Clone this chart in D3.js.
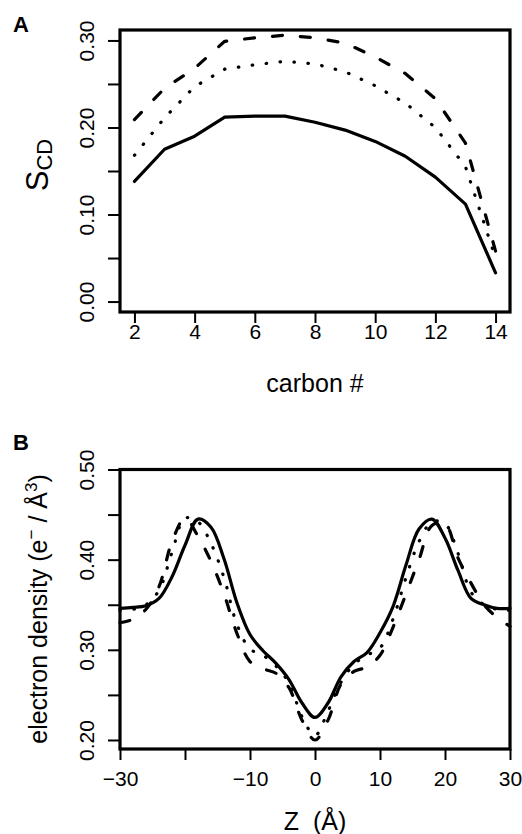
<!DOCTYPE html>
<html>
<head>
<meta charset="utf-8">
<script src="https://cdn.jsdelivr.net/npm/d3@7"></script>
<style>
  body { margin: 0; background: #fff; }
  svg { display: block; font-family: "Liberation Sans", Arial, sans-serif; }
  .tick line { stroke: #000; stroke-width: 2; }
  .domain { display: none; }
</style>
</head>
<body>
<div id="chart"></div>
<script>
// panel A: order parameter per carbon
const carbons = [2, 3, 4, 5, 6, 7, 8, 9, 10, 11, 12, 13, 14];
const scdSolid  = [0.138, 0.175, 0.190, 0.212, 0.213, 0.213, 0.206, 0.197, 0.184, 0.167, 0.143, 0.112, 0.033];
const scdDashed = [0.209, 0.245, 0.268, 0.299, 0.303, 0.306, 0.303, 0.297, 0.281, 0.262, 0.233, 0.182, 0.058];
const scdDotted = [0.168, 0.211, 0.247, 0.267, 0.272, 0.276, 0.273, 0.264, 0.248, 0.228, 0.200, 0.155, 0.050];
const scdTicks = [0, 0.05, 0.10, 0.15, 0.20, 0.25, 0.30];
const scdLabels = ['0.00', '', '0.10', '', '0.20', '', '0.30'];
const carbonTicks = [2, 4, 6, 8, 10, 12, 14];

// panel B: electron density profile along Z
const zPos = [-30, -28, -26, -24, -22, -20, -18, -16, -14, -12, -10, -8, -6, -4, -2, 0,
  2, 4, 6, 8, 10, 12, 14, 16, 18, 20, 22, 24, 26, 28, 30];
const edSolid  = [0.346, 0.347, 0.349, 0.357, 0.381, 0.416, 0.445, 0.436, 0.401, 0.352, 0.317, 0.299, 0.285, 0.267, 0.241, 0.225,
  0.241, 0.270, 0.287, 0.297, 0.319, 0.348, 0.394, 0.434, 0.445, 0.424, 0.388, 0.357, 0.350, 0.346, 0.346];
const edDashed = [0.330, 0.334, 0.345, 0.370, 0.420, 0.446, 0.426, 0.398, 0.362, 0.318, 0.287, 0.279, 0.274, 0.258, 0.222, 0.200,
  0.222, 0.262, 0.276, 0.281, 0.294, 0.325, 0.362, 0.400, 0.438, 0.440, 0.402, 0.374, 0.350, 0.336, 0.326];
const edDotted = [0.344, 0.345, 0.350, 0.366, 0.408, 0.446, 0.442, 0.418, 0.380, 0.328, 0.301, 0.294, 0.282, 0.263, 0.226, 0.205,
  0.232, 0.264, 0.284, 0.294, 0.302, 0.334, 0.380, 0.420, 0.442, 0.440, 0.407, 0.364, 0.350, 0.345, 0.344];
const edTicks = [0.20, 0.25, 0.30, 0.35, 0.40, 0.45, 0.50];
const edLabels = ['0.20', '', '0.30', '', '0.40', '', '0.50'];
const zTicks = [-30, -20, -10, 0, 10, 20, 30];
const zLabels = ['\u221230', '', '\u221210', '0', '10', '20', '30'];

const width = 522;
const height = 834;
const styles = [
  { dash: null },
  { dash: '10,18' },
  { dash: '0.5,13.5' }
];

const svg = d3.select('#chart').append('svg')
  .attr('width', width)
  .attr('height', height);

function panel(opts) {
  const g = svg.append('g');
  const x = d3.scaleLinear().domain(opts.xDomain).range([120, 510]);
  const y = d3.scaleLinear().domain(opts.yDomain).range([opts.bottom, opts.top]);

  // series
  const line = d3.line()
    .x((d, i) => x(opts.xs[i]))
    .y(d => y(d))
    .curve(opts.curve);
  opts.series.forEach((s, i) => {
    g.append('path')
      .datum(s)
      .attr('d', line)
      .attr('fill', 'none')
      .attr('stroke', '#000')
      .attr('stroke-width', 3.2)
      .attr('stroke-linecap', 'round')
      .attr('stroke-linejoin', 'round')
      .attr('stroke-dasharray', styles[i].dash);
  });

  // y axis with rotated labels
  const yAxis = g.append('g')
    .attr('transform', 'translate(120,0)')
    .call(d3.axisLeft(y).tickValues(opts.yTicks).tickSize(12)
      .tickFormat((d, i) => opts.yLabels[i]))
    .attr('font-size', 21)
    .attr('font-family', null);
  yAxis.selectAll('text')
    .attr('transform', 'rotate(-90)')
    .attr('x', 0)
    .attr('y', -26)
    .attr('dy', 0)
    .attr('text-anchor', 'middle');

  const xAxis = g.append('g')
    .attr('transform', 'translate(0,' + opts.bottom + ')')
    .call(d3.axisBottom(x).tickValues(opts.xTicks).tickSize(11)
      .tickFormat((d, i) => opts.xLabels ? opts.xLabels[i] : d))
    .attr('font-size', 21)
    .attr('font-family', null);
  xAxis.selectAll('text')
    .attr('y', opts.xLabelY)
    .attr('dy', 0);

  // frame
  g.append('rect')
    .attr('x', 120)
    .attr('y', opts.top)
    .attr('width', 390)
    .attr('height', opts.bottom - opts.top)
    .attr('fill', 'none')
    .attr('stroke', '#000')
    .attr('stroke-width', 3.2);

  g.append('text')
    .attr('x', 13)
    .attr('y', opts.top + opts.tagDy)
    .attr('font-size', 22)
    .attr('font-weight', 'bold')
    .text(opts.tag);

  return g;
}

const gA = panel({
  tag: 'A', tagDy: 2,
  top: 30, bottom: 312,
  xDomain: [1.52, 14.48], yDomain: [-0.012, 0.312],
  xs: carbons, series: [scdSolid, scdDashed, scdDotted],
  curve: d3.curveLinear,
  yTicks: scdTicks, yLabels: scdLabels,
  xTicks: carbonTicks, xLabelY: 27
});

gA.append('text')
  .attr('x', 315)
  .attr('y', 392)
  .attr('text-anchor', 'middle')
  .attr('font-size', 25)
  .text('carbon #');

const sLabel = gA.append('text')
  .attr('transform', 'translate(48,165) rotate(-90)')
  .attr('text-anchor', 'middle')
  .attr('font-size', 31);
sLabel.append('tspan').text('S');
sLabel.append('tspan').attr('font-size', 22).attr('dy', 4).text('CD');

const gB = panel({
  tag: 'B', tagDy: -20,
  top: 469.5, bottom: 749,
  xDomain: [-30, 30], yDomain: [0.19, 0.50],
  xs: zPos, series: [edSolid, edDashed, edDotted],
  curve: d3.curveCatmullRom,
  yTicks: edTicks, yLabels: edLabels,
  xTicks: zTicks, xLabels: zLabels, xLabelY: 37
});

gB.append('text')
  .attr('x', 315)
  .attr('y', 830)
  .attr('text-anchor', 'middle')
  .attr('font-size', 25)
  .attr('xml:space', 'preserve')
  .text('Z  (\u00C5)');

const edLabel = gB.append('text')
  .attr('transform', 'translate(47,609) rotate(-90)')
  .attr('text-anchor', 'middle')
  .attr('font-size', 25);
edLabel.append('tspan').text('electron density (e');
edLabel.append('tspan').attr('font-size', 17).attr('dy', -10).text('\u2212');
edLabel.append('tspan').attr('dy', 10).text(' / \u00C5');
edLabel.append('tspan').attr('font-size', 17).attr('dy', -10).text('3');
edLabel.append('tspan').attr('dy', 10).text(')');
</script>
</body>
</html>
